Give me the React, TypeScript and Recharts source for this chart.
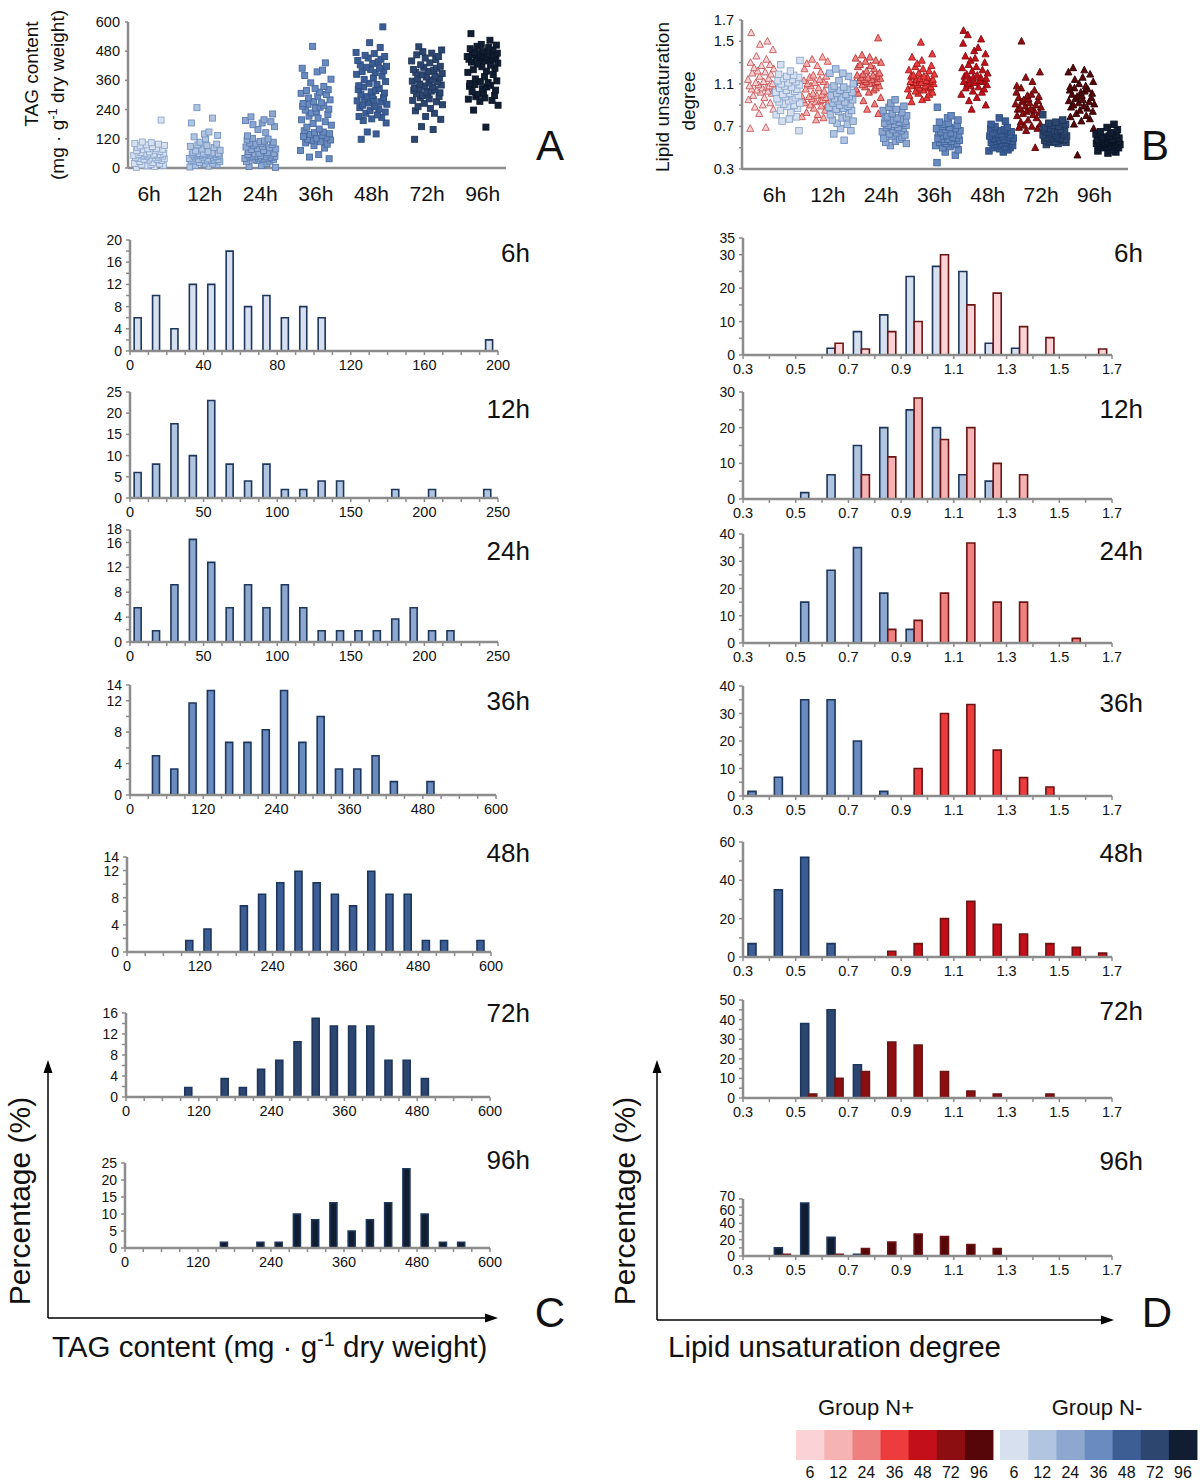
import React from 'react';
import { BarChart, Bar, XAxis, YAxis, ScatterChart, Scatter } from 'recharts';

const FONT = '"Liberation Sans", Arial, Helvetica, sans-serif';
const AXIS = '#8c8c8c';
const TEXT = '#111111';

const TIMES = ['6h', '12h', '24h', '36h', '48h', '72h', '96h'];
const LEGEND_HOURS = ['6', '12', '24', '36', '48', '72', '96'];
const NPLUS_FILL = ['#fbd3d7', '#f5b3b4', '#ef8080', '#ec3c3e', '#c20f19', '#8d0e11', '#560608'];
const NPLUS_STROKE = ['#c45a5a', '#c84c4c', '#b83030', '#a11616', '#830a0f', '#5a0608', '#2e0304'];
const NMINUS_FILL = ['#d6e0ef', '#b2c5e0', '#8da7cf', '#6a8bc0', '#3c5e95', '#2d4670', '#111d31'];
const NMINUS_STROKE = ['#8ea9cf', '#7393c2', '#5c7db3', '#46699f', '#2c4d80', '#1f3658', '#0a1424'];
const BAR_STROKE_NM = '#1d365c';
const BAR_STROKE_NP = '#6b1414';

// hand-placed horizontal scatter offsets (fraction of half group width)
const JITTER = [-0.82, 0.35, -0.15, 0.91, -0.47, 0.12, 0.68, -0.95, 0.24, -0.6, 0.79, -0.05, 0.51, -0.33, 0.97,
  -0.72, 0.08, 0.43, -0.88, 0.61, -0.21, 0.85, -0.41, 0.18, -0.99, 0.56, -0.12, 0.73, -0.66, 0.3,
  -0.27, 0.94, -0.53, 0.02, 0.66, -0.8, 0.39, -0.36, 0.88, -0.09, 0.47, -0.75, 0.21, -0.58, 0.99,
  -0.18, 0.6, -0.92, 0.14, -0.44, 0.77, -0.3, 0.05, -0.68, 0.83, -0.02, 0.27, -0.85, 0.5, -0.5];

// ---------- Panel A : TAG content (mg/g DW) ----------
const TAG_6H = [3, 6, 9, 11, 13, 15, 17, 19, 22, 27, 31, 33, 35, 36, 38, 39, 41, 42, 44, 45, 47, 49, 50, 51, 52, 53, 54, 55, 56, 57, 59, 61, 63, 66, 68, 71, 73, 75, 77, 79, 81, 85, 88, 91, 93, 95, 98, 101, 104, 107, 197];
const TAG_12H = [4, 8, 11, 14, 17, 20, 23, 26, 28, 29, 31, 32, 33, 34, 35, 36, 37, 39, 42, 45, 47, 49, 51, 52, 53, 54, 55, 56, 57, 58, 59, 60, 61, 62, 64, 67, 70, 73, 78, 84, 89, 92, 95, 98, 106, 120, 128, 134, 140, 148, 185, 205, 248];
const TAG_24H = [2, 6, 10, 18, 26, 28, 31, 34, 36, 38, 39, 40, 41, 43, 45, 46, 47, 48, 49, 51, 53, 55, 57, 58, 60, 61, 64, 68, 72, 76, 78, 80, 83, 86, 89, 93, 96, 99, 101, 103, 106, 109, 111, 115, 119, 122, 132, 145, 158, 170, 178, 185, 190, 195, 198, 210, 222];
const TAG_36H = [38, 45, 55, 72, 82, 92, 98, 103, 108, 112, 115, 118, 122, 126, 130, 134, 138, 141, 145, 148, 153, 160, 168, 176, 183, 190, 198, 205, 213, 220, 226, 232, 238, 242, 246, 250, 254, 258, 262, 265, 268, 273, 280, 288, 295, 302, 307, 312, 318, 322, 327, 335, 350, 365, 380, 395, 402, 410, 432, 500];
const TAG_48H = [118, 140, 148, 185, 195, 202, 208, 212, 218, 225, 230, 236, 243, 248, 253, 258, 262, 267, 272, 276, 281, 285, 289, 293, 298, 303, 308, 313, 318, 322, 327, 333, 338, 343, 348, 355, 364, 370, 378, 385, 392, 396, 400, 405, 410, 414, 418, 424, 430, 436, 442, 447, 452, 458, 463, 470, 475, 495, 515, 580];
const TAG_72H = [118, 158, 170, 200, 212, 225, 235, 245, 252, 260, 266, 272, 278, 284, 289, 294, 298, 302, 305, 309, 312, 316, 319, 322, 326, 329, 333, 337, 341, 345, 349, 353, 357, 362, 366, 370, 374, 378, 383, 388, 393, 397, 401, 405, 410, 414, 418, 424, 432, 440, 446, 452, 458, 465, 472, 478, 485, 498];
const TAG_96H = [168, 238, 258, 274, 278, 283, 288, 293, 298, 303, 308, 314, 320, 326, 333, 336, 340, 343, 347, 351, 355, 358, 366, 375, 384, 393, 398, 404, 410, 416, 423, 427, 431, 435, 440, 444, 447, 449, 452, 453, 455, 456, 458, 460, 462, 464, 466, 468, 470, 472, 475, 480, 485, 490, 495, 500, 505, 508, 525, 552];
const TAG_GROUPS = [TAG_6H, TAG_12H, TAG_24H, TAG_36H, TAG_48H, TAG_72H, TAG_96H];
const TAG_TICKS = [0, 120, 240, 360, 480, 600];

// ---------- Panel B : lipid unsaturation degree ----------
const UNS_NP_6H = [0.68, 0.69, 0.82, 0.86, 0.88, 0.9, 0.92, 0.95, 0.97, 0.99, 1.01, 1.02, 1.03, 1.04, 1.05, 1.05, 1.06, 1.07, 1.08, 1.08, 1.09, 1.1, 1.11, 1.12, 1.14, 1.15, 1.17, 1.19, 1.2, 1.21, 1.22, 1.24, 1.25, 1.27, 1.28, 1.3, 1.33, 1.36, 1.42, 1.47, 1.5, 1.58];
const UNS_NM_6H = [0.66, 0.75, 0.77, 0.79, 0.81, 0.83, 0.85, 0.87, 0.89, 0.9, 0.91, 0.92, 0.93, 0.94, 0.95, 0.96, 0.97, 0.98, 0.99, 1.0, 1.01, 1.02, 1.03, 1.04, 1.05, 1.06, 1.07, 1.08, 1.09, 1.1, 1.11, 1.12, 1.13, 1.14, 1.15, 1.16, 1.17, 1.18, 1.19, 1.22, 1.28, 1.32];
const UNS_NP_12H = [0.76, 0.78, 0.79, 0.81, 0.83, 0.85, 0.87, 0.89, 0.9, 0.91, 0.92, 0.93, 0.94, 0.95, 0.95, 0.96, 0.97, 0.98, 0.99, 0.99, 1.0, 1.01, 1.03, 1.05, 1.06, 1.08, 1.09, 1.1, 1.11, 1.12, 1.13, 1.14, 1.16, 1.17, 1.18, 1.21, 1.24, 1.27, 1.29, 1.31, 1.33, 1.35];
const UNS_NM_12H = [0.57, 0.63, 0.66, 0.68, 0.72, 0.73, 0.75, 0.76, 0.78, 0.79, 0.81, 0.82, 0.84, 0.85, 0.86, 0.87, 0.88, 0.89, 0.9, 0.91, 0.92, 0.93, 0.94, 0.95, 0.96, 0.97, 0.98, 0.99, 1.0, 1.01, 1.02, 1.04, 1.05, 1.06, 1.07, 1.08, 1.1, 1.13, 1.17, 1.2, 1.2, 1.24];
const UNS_NP_24H = [0.82, 0.86, 0.91, 0.94, 0.97, 1.01, 1.02, 1.04, 1.05, 1.06, 1.07, 1.08, 1.09, 1.1, 1.11, 1.11, 1.12, 1.12, 1.13, 1.14, 1.14, 1.15, 1.16, 1.16, 1.17, 1.18, 1.18, 1.19, 1.2, 1.22, 1.24, 1.26, 1.27, 1.28, 1.3, 1.31, 1.32, 1.34, 1.35, 1.37, 1.53];
const UNS_NM_24H = [0.52, 0.54, 0.55, 0.56, 0.58, 0.59, 0.6, 0.61, 0.62, 0.63, 0.64, 0.65, 0.66, 0.67, 0.68, 0.69, 0.69, 0.7, 0.71, 0.71, 0.72, 0.73, 0.73, 0.74, 0.75, 0.75, 0.76, 0.77, 0.78, 0.78, 0.79, 0.8, 0.82, 0.83, 0.85, 0.86, 0.88, 0.89, 0.92, 0.95];
const UNS_NP_36H = [0.93, 0.95, 0.97, 0.99, 1.0, 1.01, 1.02, 1.03, 1.04, 1.05, 1.06, 1.06, 1.07, 1.08, 1.08, 1.09, 1.1, 1.11, 1.11, 1.12, 1.12, 1.13, 1.14, 1.14, 1.15, 1.16, 1.17, 1.17, 1.18, 1.19, 1.2, 1.22, 1.23, 1.24, 1.26, 1.27, 1.29, 1.32, 1.35, 1.38, 1.49];
const UNS_NM_36H = [0.36, 0.43, 0.46, 0.48, 0.5, 0.51, 0.52, 0.53, 0.54, 0.54, 0.55, 0.56, 0.56, 0.57, 0.58, 0.58, 0.59, 0.59, 0.6, 0.61, 0.62, 0.62, 0.63, 0.64, 0.64, 0.65, 0.66, 0.67, 0.68, 0.68, 0.69, 0.7, 0.71, 0.72, 0.73, 0.74, 0.76, 0.78, 0.8, 0.88];
const UNS_NP_48H = [0.86, 0.9, 0.94, 0.97, 1.0, 1.02, 1.03, 1.05, 1.06, 1.07, 1.08, 1.09, 1.1, 1.11, 1.12, 1.12, 1.13, 1.14, 1.15, 1.16, 1.16, 1.17, 1.18, 1.19, 1.2, 1.22, 1.23, 1.25, 1.26, 1.28, 1.3, 1.32, 1.34, 1.36, 1.38, 1.41, 1.44, 1.48, 1.52, 1.56, 1.6];
const UNS_NM_48H = [0.46, 0.47, 0.48, 0.49, 0.5, 0.5, 0.51, 0.52, 0.52, 0.53, 0.54, 0.54, 0.55, 0.55, 0.56, 0.56, 0.57, 0.57, 0.58, 0.58, 0.59, 0.59, 0.6, 0.6, 0.61, 0.61, 0.62, 0.62, 0.63, 0.63, 0.64, 0.65, 0.66, 0.67, 0.68, 0.69, 0.7, 0.72, 0.75, 0.78];
const UNS_NP_72H = [0.5, 0.66, 0.68, 0.69, 0.7, 0.71, 0.72, 0.74, 0.76, 0.78, 0.8, 0.81, 0.82, 0.83, 0.84, 0.85, 0.86, 0.86, 0.87, 0.88, 0.89, 0.9, 0.91, 0.92, 0.93, 0.94, 0.95, 0.96, 0.97, 0.98, 0.99, 1.0, 1.02, 1.04, 1.06, 1.08, 1.12, 1.16, 1.21, 1.5];
const UNS_NM_72H = [0.53, 0.54, 0.55, 0.55, 0.56, 0.56, 0.57, 0.57, 0.58, 0.58, 0.58, 0.59, 0.59, 0.59, 0.6, 0.6, 0.61, 0.61, 0.62, 0.62, 0.62, 0.63, 0.63, 0.64, 0.64, 0.65, 0.65, 0.66, 0.66, 0.67, 0.67, 0.68, 0.69, 0.7, 0.71, 0.72, 0.73, 0.74, 0.76, 0.81];
const UNS_NP_96H = [0.43, 0.68, 0.72, 0.75, 0.77, 0.79, 0.8, 0.82, 0.84, 0.85, 0.87, 0.88, 0.89, 0.9, 0.91, 0.92, 0.93, 0.94, 0.95, 0.96, 0.97, 0.98, 0.99, 1.0, 1.01, 1.02, 1.03, 1.04, 1.05, 1.06, 1.07, 1.08, 1.1, 1.12, 1.14, 1.16, 1.19, 1.21, 1.23, 1.25];
const UNS_NM_96H = [0.45, 0.46, 0.47, 0.48, 0.5, 0.5, 0.51, 0.51, 0.52, 0.52, 0.52, 0.53, 0.53, 0.53, 0.54, 0.54, 0.54, 0.55, 0.55, 0.55, 0.56, 0.56, 0.56, 0.57, 0.57, 0.57, 0.58, 0.58, 0.58, 0.59, 0.59, 0.6, 0.61, 0.62, 0.63, 0.64, 0.65, 0.67, 0.69, 0.72];
const UNS_NP_GROUPS = [UNS_NP_6H, UNS_NP_12H, UNS_NP_24H, UNS_NP_36H, UNS_NP_48H, UNS_NP_72H, UNS_NP_96H];
const UNS_NM_GROUPS = [UNS_NM_6H, UNS_NM_12H, UNS_NM_24H, UNS_NM_36H, UNS_NM_48H, UNS_NM_72H, UNS_NM_96H];
const UNS_TICKS = [0.3, 0.5, 0.7, 0.9, 1.1, 1.3, 1.5, 1.7];
const UNS_MAJOR = [0.3, 0.7, 1.1, 1.5, 1.7];

// ---------- Panel C : TAG histograms (% of cells) ----------
const C_6H_BINS = [4, 14, 24, 34, 44, 54, 64, 74, 84, 94, 104, 195];
const C_6H_PCT = [6, 10, 4, 12, 12, 18, 8, 10, 6, 8, 6, 2];
const C_12H_BINS = [5, 17.5, 30, 42.5, 55, 67.5, 80, 92.5, 105, 117.5, 130, 142.5, 180, 205, 242.5];
const C_12H_PCT = [6, 8, 17.5, 10, 23, 8, 4, 8, 2, 2, 4, 4, 2, 2, 2];
const C_24H_BINS = [5, 17.5, 30, 42.5, 55, 67.5, 80, 92.5, 105, 117.5, 130, 142.5, 155, 167.5, 180, 192.5, 205, 217.5];
const C_24H_PCT = [5.5, 1.8, 9.2, 16.5, 12.8, 5.5, 9.2, 5.5, 9.2, 5.5, 1.8, 1.8, 1.8, 1.8, 3.7, 5.5, 1.8, 1.8];
const C_36H_BINS = [42, 72, 102, 132, 162, 192, 222, 252, 282, 312, 342, 372, 402, 432, 492];
const C_36H_PCT = [5, 3.3, 11.7, 13.3, 6.7, 6.7, 8.3, 13.3, 6.7, 10, 3.3, 3.3, 5, 1.7, 1.7];
const C_48H_BINS = [102, 132, 192, 222, 252, 282, 312, 342, 372, 402, 432, 462, 492, 522, 582];
const C_48H_PCT = [1.7, 3.4, 6.8, 8.5, 10.2, 11.9, 10.2, 8.5, 6.8, 11.9, 8.5, 8.5, 1.7, 1.7, 1.7];
const C_72H_BINS = [102, 162, 192, 222, 252, 282, 312, 342, 372, 402, 432, 462, 492];
const C_72H_PCT = [1.8, 3.5, 1.8, 5.3, 7, 10.5, 15, 13.5, 13.5, 13.5, 7, 7, 3.5];
const C_96H_BINS = [162, 222, 252, 282, 312, 342, 372, 402, 432, 462, 492, 522, 552];
const C_96H_PCT = [1.7, 1.7, 1.7, 10, 8.3, 13.3, 5, 8.3, 13.3, 23.3, 10, 1.7, 1.7];

const CX_200 = [0, 10, 20, 30, 40, 50, 60, 70, 80, 90, 100, 110, 120, 130, 140, 150, 160, 170, 180, 190, 200];
const CX_200_MAJOR = [0, 40, 80, 120, 160, 200];
const CX_250 = [0, 12.5, 25, 37.5, 50, 62.5, 75, 87.5, 100, 112.5, 125, 137.5, 150, 162.5, 175, 187.5, 200, 212.5, 225, 237.5, 250];
const CX_250_MAJOR = [0, 50, 100, 150, 200, 250];
const CX_600 = [0, 30, 60, 90, 120, 150, 180, 210, 240, 270, 300, 330, 360, 390, 420, 450, 480, 510, 540, 570, 600];
const CX_600_MAJOR = [0, 120, 240, 360, 480, 600];

// ---------- Panel D : unsaturation histograms (% of cells) ----------
const D_BINS = [0.35, 0.45, 0.55, 0.65, 0.75, 0.85, 0.95, 1.05, 1.15, 1.25, 1.35, 1.45, 1.55, 1.65];
const D_6H_NM = [0, 0, 0, 2, 7, 12, 23.5, 26.5, 25, 3.5, 2, 0, 0, 0];
const D_6H_NP = [0, 0, 0, 3.5, 1.8, 7, 10, 30, 15, 18.5, 8.5, 5.2, 0, 1.8];
const D_12H_NM = [0, 0, 1.8, 6.8, 15, 20, 25, 20, 6.8, 5, 0, 0, 0, 0];
const D_12H_NP = [0, 0, 0, 0, 6.8, 11.8, 28.3, 16.7, 20, 10, 6.8, 0, 0, 0];
const D_24H_NM = [0, 0, 15, 26.7, 35, 18.3, 5, 0, 0, 0, 0, 0, 0, 0];
const D_24H_NP = [0, 0, 0, 0, 0, 5, 8.3, 18.3, 36.7, 15, 15, 0, 1.7, 0];
const D_36H_NM = [1.7, 6.8, 35, 35, 20, 1.7, 0, 0, 0, 0, 0, 0, 0, 0];
const D_36H_NP = [0, 0, 0, 0, 0, 0, 10, 30, 33.3, 16.7, 6.7, 3.3, 0, 0];
const D_48H_NM = [7, 35, 52, 7, 0, 0, 0, 0, 0, 0, 0, 0, 0, 0];
const D_48H_NP = [0, 0, 0, 0, 0, 3, 7, 20, 29, 17, 12, 7, 5, 2];
const D_72H_NM = [0, 0, 38, 45, 17, 0, 0, 0, 0, 0, 0, 0, 0, 0];
const D_72H_NP = [0, 0, 2, 10, 13.5, 28.5, 27, 13.5, 3.5, 2, 0, 2, 0, 0];
const D_96H_NM = [0, 10, 65, 23, 2, 0, 0, 0, 0, 0, 0, 0, 0, 0];
const D_96H_NP = [0, 2, 0, 2, 9, 17, 27, 24, 14, 9, 0, 0, 0, 0];
const DX_TICKS = [0.3, 0.4, 0.5, 0.6, 0.7, 0.8, 0.9, 1.0, 1.1, 1.2, 1.3, 1.4, 1.5, 1.6, 1.7];
const DX_MAJOR = [0.3, 0.5, 0.7, 0.9, 1.1, 1.3, 1.5, 1.7];

// ---------- helpers ----------
function makeTick(side: 'x' | 'y', major: number[] | null, fontSize: number, dy: number, fmt: (v: number) => string, nudge?: Record<string, number>) {
  return (props: any) => {
    const { x, y, payload } = props;
    const v = Number(payload.value);
    if (major && !major.some((m) => Math.abs(m - v) < 1e-6)) return <g />;
    const extra = nudge && nudge[String(v)] ? nudge[String(v)] : 0;
    return (
      <text x={x} y={y} dy={dy + extra} textAnchor={side === 'x' ? 'middle' : 'end'} fontSize={fontSize} fontFamily={FONT} fill={TEXT}>
        {fmt(v)}
      </text>
    );
  };
}

const squareShape = (fill: string, stroke: string, s: number) => (p: any) => (
  <rect x={p.cx - s / 2} y={p.cy - s / 2} width={s} height={s} fill={fill} stroke={stroke} strokeWidth={0.9} />
);
const triShape = (fill: string, stroke: string, s: number) => (p: any) => (
  <path d={`M${p.cx},${p.cy - s * 0.55}L${p.cx + s / 2},${p.cy + s * 0.4}L${p.cx - s / 2},${p.cy + s * 0.4}Z`} fill={fill} stroke={stroke} strokeWidth={0.9} />
);

const jitter = (values: number[], center: number, spread: number, shift: number) =>
  values.map((v, j) => ({ x: center + JITTER[(j + shift) % JITTER.length] * spread, y: v }));

type BarSpec = { key: string; fill: string; stroke: string };
type HistProps = {
  l: number; r: number; t: number; b: number; data: any[];
  xDomain: [number, number]; xTicks: number[]; xMajor: number[]; xFmt: (v: number) => string;
  yMax: number; yTicks: number[]; yMajor: number[]; bars: BarSpec[]; barSize: number; yNudge?: Record<string, number>;
};

function Hist(p: HistProps) {
  const ML = 50, MT = 10, MR = 18, MB = 26;
  const w = p.r - p.l + ML + MR;
  const h = p.b - p.t + MT + MB;
  return (
    <div style={{ position: 'absolute', left: p.l - ML, top: p.t - MT }}>
      <BarChart width={w} height={h} data={p.data} margin={{ top: MT, right: MR, left: 0, bottom: 0 }} barGap={0}>
        <XAxis type="number" dataKey="x" domain={p.xDomain} ticks={p.xTicks} interval={0} allowDataOverflow height={MB}
          axisLine={{ stroke: AXIS, strokeWidth: 2.5 }} tickLine={{ stroke: AXIS, strokeWidth: 1.5 }} tickSize={4} tickMargin={2}
          tick={makeTick('x', p.xMajor, 14.5, 13, p.xFmt)} />
        <YAxis type="number" domain={[0, p.yMax]} ticks={p.yTicks} interval={0} allowDataOverflow width={ML}
          axisLine={{ stroke: AXIS, strokeWidth: 2.5 }} tickLine={{ stroke: AXIS, strokeWidth: 1.5 }} tickSize={4} tickMargin={4}
          tick={makeTick('y', p.yMajor, 14, 5, (v) => String(v), p.yNudge)} />
        {p.bars.map((b) => (
          <Bar key={b.key} dataKey={b.key} fill={b.fill} stroke={b.stroke} strokeWidth={1.6} barSize={p.barSize} isAnimationActive={false} />
        ))}
      </BarChart>
    </div>
  );
}

const cRows = (bins: number[], pct: number[]) => bins.map((x, k) => ({ x, v: pct[k] }));
const dRows = (nm: number[], np: number[]) => D_BINS.map((x, k) => ({ x, nm: nm[k], np: np[k] }));

const C_HISTS = [
  { l: 130, r: 498, t: 240, b: 351, data: cRows(C_6H_BINS, C_6H_PCT), xDomain: [0, 200], xTicks: CX_200, xMajor: CX_200_MAJOR, yMax: 20, yTicks: [0, 2, 4, 6, 8, 10, 12, 14, 16, 18, 20], yMajor: [0, 4, 8, 12, 16, 20] },
  { l: 130, r: 498, t: 392, b: 498, data: cRows(C_12H_BINS, C_12H_PCT), xDomain: [0, 250], xTicks: CX_250, xMajor: CX_250_MAJOR, yMax: 25, yTicks: [0, 5, 10, 15, 20, 25], yMajor: [0, 5, 10, 15, 20, 25] },
  { l: 130, r: 498, t: 530, b: 642, data: cRows(C_24H_BINS, C_24H_PCT), xDomain: [0, 250], xTicks: CX_250, xMajor: CX_250_MAJOR, yMax: 18, yTicks: [0, 2, 4, 6, 8, 10, 12, 14, 16, 18], yMajor: [0, 4, 8, 12, 16, 18], yNudge: { '18': -1, '16': 1 } },
  { l: 130, r: 496, t: 685, b: 795, data: cRows(C_36H_BINS, C_36H_PCT), xDomain: [0, 600], xTicks: CX_600, xMajor: CX_600_MAJOR, yMax: 14, yTicks: [0, 2, 4, 6, 8, 10, 12, 14], yMajor: [0, 4, 8, 12, 14] },
  { l: 127, r: 491, t: 857, b: 952, data: cRows(C_48H_BINS, C_48H_PCT), xDomain: [0, 600], xTicks: CX_600, xMajor: CX_600_MAJOR, yMax: 14, yTicks: [0, 2, 4, 6, 8, 10, 12, 14], yMajor: [0, 4, 8, 12, 14] },
  { l: 126, r: 490, t: 1013, b: 1097, data: cRows(C_72H_BINS, C_72H_PCT), xDomain: [0, 600], xTicks: CX_600, xMajor: CX_600_MAJOR, yMax: 16, yTicks: [0, 2, 4, 6, 8, 10, 12, 14, 16], yMajor: [0, 4, 8, 12, 16] },
  { l: 125, r: 490, t: 1163, b: 1248, data: cRows(C_96H_BINS, C_96H_PCT), xDomain: [0, 600], xTicks: CX_600, xMajor: CX_600_MAJOR, yMax: 25, yTicks: [0, 5, 10, 15, 20, 25], yMajor: [0, 5, 10, 15, 20, 25] },
];

const D_HISTS = [
  { t: 238, b: 355, data: dRows(D_6H_NM, D_6H_NP), yMax: 35, yTicks: [0, 5, 10, 15, 20, 25, 30, 35], yMajor: [0, 10, 20, 30, 35] },
  { t: 392, b: 499, data: dRows(D_12H_NM, D_12H_NP), yMax: 30, yTicks: [0, 5, 10, 15, 20, 25, 30], yMajor: [0, 10, 20, 30] },
  { t: 534, b: 643, data: dRows(D_24H_NM, D_24H_NP), yMax: 40, yTicks: [0, 5, 10, 15, 20, 25, 30, 35, 40], yMajor: [0, 10, 20, 30, 40] },
  { t: 686, b: 796, data: dRows(D_36H_NM, D_36H_NP), yMax: 40, yTicks: [0, 5, 10, 15, 20, 25, 30, 35, 40], yMajor: [0, 10, 20, 30, 40] },
  { t: 842, b: 957, data: dRows(D_48H_NM, D_48H_NP), yMax: 60, yTicks: [0, 10, 20, 30, 40, 50, 60], yMajor: [0, 20, 40, 60] },
  { t: 1000, b: 1098, data: dRows(D_72H_NM, D_72H_NP), yMax: 50, yTicks: [0, 5, 10, 15, 20, 25, 30, 35, 40, 45, 50], yMajor: [0, 10, 20, 30, 40, 50] },
  { t: 1199, b: 1256, data: dRows(D_96H_NM, D_96H_NP), yMax: 70, yTicks: [0, 10, 20, 30, 40, 50, 60, 70], yMajor: [0, 20, 40, 60, 70], yNudge: { '70': -3, '60': 3 } },
];

const C_LABEL_Y = [262, 418, 560, 710, 862, 1022, 1169];
const D_LABEL_Y = [262, 418, 560, 712, 862, 1020, 1170];

function PanelA() {
  const l = 128, r = 506, t = 22, b = 168;
  const ML = 60, MT = 10, MR = 10, MB = 44;
  return (
    <div style={{ position: 'absolute', left: l - ML, top: t - MT }}>
      <ScatterChart width={r - l + ML + MR} height={b - t + MT + MB} margin={{ top: MT, right: MR, left: 0, bottom: 0 }}>
        <XAxis type="number" dataKey="x" domain={[-0.38, 6.42]} ticks={[0, 1, 2, 3, 4, 5, 6]} interval={0} allowDataOverflow height={MB}
          axisLine={{ stroke: AXIS, strokeWidth: 2.5 }} tickLine={false} tickSize={0} tickMargin={0}
          tick={makeTick('x', null, 21, 33, (v) => TIMES[Math.round(v)])} />
        <YAxis type="number" dataKey="y" domain={[0, 600]} ticks={TAG_TICKS} interval={0} width={ML}
          axisLine={{ stroke: AXIS, strokeWidth: 2.5 }} tickLine={{ stroke: AXIS, strokeWidth: 1.5 }} tickSize={3} tickMargin={5}
          tick={makeTick('y', null, 14.5, 5, (v) => String(v))} />
        {TAG_GROUPS.map((g, i) => (
          <Scatter key={i} data={jitter(g, i, 0.28, i * 7)} shape={squareShape(NMINUS_FILL[i], NMINUS_STROKE[i], 6)} isAnimationActive={false} />
        ))}
      </ScatterChart>
    </div>
  );
}

function PanelB() {
  const l = 742, r = 1128, t = 20, b = 169;
  const ML = 60, MT = 10, MR = 10, MB = 44;
  return (
    <div style={{ position: 'absolute', left: l - ML, top: t - MT }}>
      <ScatterChart width={r - l + ML + MR} height={b - t + MT + MB} margin={{ top: MT, right: MR, left: 0, bottom: 0 }}>
        <XAxis type="number" dataKey="x" domain={[-0.61, 6.63]} ticks={[0, 1, 2, 3, 4, 5, 6]} interval={0} allowDataOverflow height={MB}
          axisLine={{ stroke: AXIS, strokeWidth: 2.5 }} tickLine={false} tickSize={0} tickMargin={0}
          tick={makeTick('x', null, 21, 33, (v) => TIMES[Math.round(v)])} />
        <YAxis type="number" dataKey="y" domain={[0.3, 1.7]} ticks={UNS_TICKS} interval={0} width={ML} allowDataOverflow
          axisLine={{ stroke: AXIS, strokeWidth: 2.5 }} tickLine={{ stroke: AXIS, strokeWidth: 1.5 }} tickSize={3} tickMargin={5}
          tick={makeTick('y', UNS_MAJOR, 14.5, 5, (v) => v.toFixed(1))} />
        {UNS_NP_GROUPS.map((g, i) => (
          <Scatter key={'p' + i} data={jitter(g, i - 0.25, 0.25, i * 5)} shape={triShape(NPLUS_FILL[i], NPLUS_STROKE[i], 7)} isAnimationActive={false} />
        ))}
        {UNS_NM_GROUPS.map((g, i) => (
          <Scatter key={'m' + i} data={jitter(g, i + 0.25, 0.23, i * 5 + 3)} shape={squareShape(NMINUS_FILL[i], NMINUS_STROKE[i], 6.5)} isAnimationActive={false} />
        ))}
      </ScatterChart>
    </div>
  );
}

function Overlay() {
  const legendW = 28.15;
  return (
    <svg width={1200} height={1481} style={{ position: 'absolute', left: 0, top: 0, pointerEvents: 'none' }} fontFamily={FONT}>
      {/* Panel A y title */}
      <text transform="translate(38,74) rotate(-90)" textAnchor="middle" fontSize={19} fill={TEXT}>TAG content</text>
      <text transform="translate(64,95) rotate(-90)" textAnchor="middle" fontSize={19} fill={TEXT}>
        (mg · g<tspan fontSize={13} dy={-7}>-1</tspan><tspan dy={7}> dry weight)</tspan>
      </text>
      {/* Panel B y title */}
      <text transform="translate(669,97) rotate(-90)" textAnchor="middle" fontSize={19} fill={TEXT}>Lipid unsaturation</text>
      <text transform="translate(695,101) rotate(-90)" textAnchor="middle" fontSize={19} fill={TEXT}>degree</text>

      {/* panel letters */}
      <text x={550} y={160} textAnchor="middle" fontSize={42} fill={TEXT}>A</text>
      <text x={1155} y={160} textAnchor="middle" fontSize={42} fill={TEXT}>B</text>
      <text x={550} y={1327} textAnchor="middle" fontSize={42} fill={TEXT}>C</text>
      <text x={1157} y={1327} textAnchor="middle" fontSize={42} fill={TEXT}>D</text>

      {/* time labels */}
      {TIMES.map((t, i) => (
        <text key={'c' + t} x={530} y={C_LABEL_Y[i]} textAnchor="end" fontSize={26} fill={TEXT}>{t}</text>
      ))}
      {TIMES.map((t, i) => (
        <text key={'d' + t} x={1143} y={D_LABEL_Y[i]} textAnchor="end" fontSize={26} fill={TEXT}>{t}</text>
      ))}

      {/* C arrows and titles */}
      <line x1={48} y1={1318} x2={48} y2={1070} stroke="#000" strokeWidth={1.5} />
      <polygon points="48,1060 43.5,1073 52.5,1073" fill="#000" />
      <line x1={48} y1={1318} x2={488} y2={1318} stroke="#000" strokeWidth={1.5} />
      <polygon points="498,1318 485,1313.5 485,1322.5" fill="#000" />
      <text transform="translate(30,1201) rotate(-90)" textAnchor="middle" fontSize={30} fill={TEXT}>Percentage (%)</text>
      <text x={52} y={1357} fontSize={29.5} fill={TEXT}>
        TAG content (mg · g<tspan fontSize={20} dy={-11}>-1</tspan><tspan dy={11}> dry weight)</tspan>
      </text>

      {/* D arrows and titles */}
      <line x1={657} y1={1320} x2={657} y2={1070} stroke="#000" strokeWidth={1.5} />
      <polygon points="657,1060 652.5,1073 661.5,1073" fill="#000" />
      <line x1={657} y1={1320} x2={1104} y2={1320} stroke="#000" strokeWidth={1.5} />
      <polygon points="1114,1320 1101,1315.5 1101,1324.5" fill="#000" />
      <text transform="translate(635,1201) rotate(-90)" textAnchor="middle" fontSize={30} fill={TEXT}>Percentage (%)</text>
      <text x={668} y={1357} fontSize={29.5} fill={TEXT}>Lipid unsaturation degree</text>

      {/* legend */}
      <text x={866} y={1415} textAnchor="middle" fontSize={22} fill={TEXT}>Group N+</text>
      <text x={1097} y={1415} textAnchor="middle" fontSize={22} fill={TEXT}>Group N-</text>
      {NPLUS_FILL.map((c, k) => (
        <rect key={'lp' + k} x={796 + k * legendW} y={1430} width={legendW + 0.4} height={30} fill={c} />
      ))}
      {NMINUS_FILL.map((c, k) => (
        <rect key={'lm' + k} x={1000 + k * legendW} y={1430} width={legendW + 0.4} height={30} fill={c} />
      ))}
      {LEGEND_HOURS.map((h, k) => (
        <text key={'hp' + k} x={796 + (k + 0.5) * legendW} y={1478} textAnchor="middle" fontSize={16} fill={TEXT}>{h}</text>
      ))}
      {LEGEND_HOURS.map((h, k) => (
        <text key={'hm' + k} x={1000 + (k + 0.5) * legendW} y={1478} textAnchor="middle" fontSize={16} fill={TEXT}>{h}</text>
      ))}
    </svg>
  );
}

export default function App() {
  return (
    <div style={{ position: 'absolute', left: 0, top: 0, width: 1200, height: 1481, background: '#fff', fontFamily: FONT, overflow: 'hidden' }}>
      <PanelA />
      <PanelB />
      {C_HISTS.map((h, i) => (
        <Hist key={'C' + i} l={h.l} r={h.r} t={h.t} b={h.b} data={h.data} xDomain={h.xDomain as [number, number]} xTicks={h.xTicks}
          xMajor={h.xMajor} xFmt={(v) => String(v)} yMax={h.yMax} yTicks={h.yTicks} yMajor={h.yMajor} yNudge={(h as any).yNudge}
          bars={[{ key: 'v', fill: NMINUS_FILL[i], stroke: BAR_STROKE_NM }]} barSize={7} />
      ))}
      {D_HISTS.map((h, i) => (
        <Hist key={'D' + i} l={743} r={1112} t={h.t} b={h.b} data={h.data} xDomain={[0.3, 1.7]} xTicks={DX_TICKS}
          xMajor={DX_MAJOR} xFmt={(v) => v.toFixed(1)} yMax={h.yMax} yTicks={h.yTicks} yMajor={h.yMajor} yNudge={(h as any).yNudge}
          bars={[{ key: 'nm', fill: NMINUS_FILL[i], stroke: BAR_STROKE_NM }, { key: 'np', fill: NPLUS_FILL[i], stroke: BAR_STROKE_NP }]} barSize={8} />
      ))}
      <Overlay />
    </div>
  );
}
